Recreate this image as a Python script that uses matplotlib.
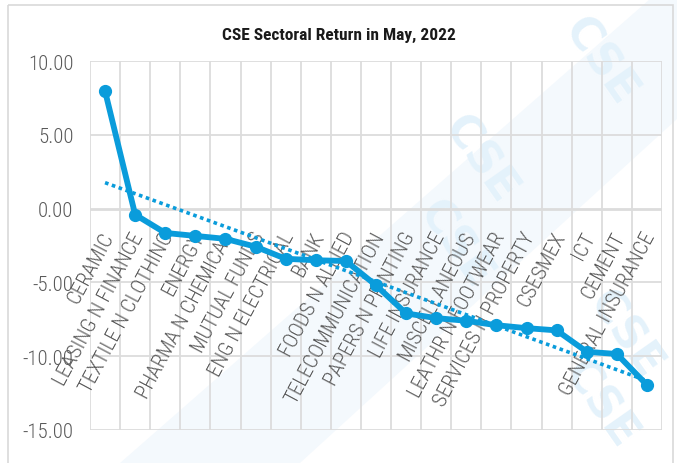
import numpy as np
import matplotlib.pyplot as plt
from matplotlib.patches import Rectangle, Polygon

plt.rcParams['font.family'] = ['Roboto Condensed', 'Archivo Narrow', 'PT Sans Narrow',
                               'Carlito', 'DejaVu Sans']

# ---------------------------------------------------------
# Data
# ---------------------------------------------------------
sectors = ['CERAMIC', 'LEASING N FINANCE', 'TEXTILE N CLOTHING', 'ENERGY',
           'PHARMA N CHEMICAL', 'MUTUAL FUNDS', 'ENG N ELECTRICAL', 'BANK',
           'FOODS N ALLIED', 'TELECOMMUNICATION', 'PAPERS N PRINTING',
           'LIFE INSURANCE', 'MISCELLANEOUS', 'LEATHR N FOOTWEAR',
           'SERVICES N PROPERTY', 'CSESMEX', 'ICT', 'CEMENT', 'GENERAL INSURANCE']
returns = [7.96, -0.41, -1.65, -1.85, -2.05, -2.58, -3.40, -3.50, -3.55,
           -5.20, -7.10, -7.42, -7.60, -7.90, -8.10, -8.25, -9.70, -9.85, -11.95]
yticks = [10, 5, 0, -5, -10, -15]

blue = '#0A9CDB'
grey_text = '#595959'
grid = '#DCDCDC'

# ---------------------------------------------------------
# Figure
# ---------------------------------------------------------
fig = plt.figure(figsize=(6.77, 4.64), dpi=100)
fig.patch.set_facecolor('white')

# background layer: faint band, watermark, chart frame
bg = fig.add_axes([0, 0, 1, 1], zorder=-1)
bg.set_xlim(0, 677)
bg.set_ylim(464, 0)
bg.axis('off')
bg.add_patch(Polygon([(120, 464), (300, 464), (677, 120), (677, 0), (650, 0)],
                     closed=True, facecolor='#F4F9FD', edgecolor='none'))
for (wx, wy) in [(600, 62), (480, 160), (455, 245), (625, 335), (600, 405)]:
    bg.text(wx, wy, 'CSE', rotation=-55, ha='center', va='center', fontsize=32,
            fontweight='bold', color='#E4F2FB', family='DejaVu Sans')
bg.add_patch(Rectangle((8, 6), 665, 470, fill=False, edgecolor='#D9D9D9', linewidth=1.2))

ax = fig.add_axes([90 / 677, 1 - 431 / 464, 572 / 677, 369 / 464], zorder=1)
ax.set_facecolor('none')

x = np.arange(len(sectors))

# grid
for gx in np.arange(-0.5, len(sectors), 1.0):
    ax.axvline(gx, color=grid, lw=1.3, zorder=1)
for gy in yticks:
    ax.axhline(gy, color=grid, lw=2.0 if gy == 0 else 1.3, zorder=1)

# linear trendline
coef = np.polyfit(x, returns, 1)
ax.plot(x, np.polyval(coef, x), linestyle=(0, (1, 1)), color=blue, lw=2.6, zorder=3)

# main series
ax.plot(x, returns, color=blue, lw=4.2, marker='o', markersize=8.5, zorder=4,
        solid_capstyle='round')

# category labels next to the zero line
for xi, name in zip(x, sectors):
    ax.text(xi - 0.15, -1.35, name, rotation=62, rotation_mode='anchor',
            ha='right', va='top', fontsize=15, fontweight='light',
            color=grey_text, zorder=2)

ax.set_xlim(-0.5, len(sectors) - 0.5)
ax.set_ylim(-15, 10)
ax.set_xticks([])
ax.set_yticks(yticks)
ax.set_yticklabels(['%.2f' % v for v in yticks], fontsize=15, fontweight='light',
                   color=grey_text)
ax.tick_params(axis='y', length=0, pad=12)
for s in ax.spines.values():
    s.set_visible(False)

fig.text(339 / 677, 1 - 35 / 464, 'CSE Sectoral Return in May, 2022',
         ha='center', va='center', fontsize=12.5, fontweight='bold', color='#1A1A1A')

plt.savefig('out.png', dpi=100)
